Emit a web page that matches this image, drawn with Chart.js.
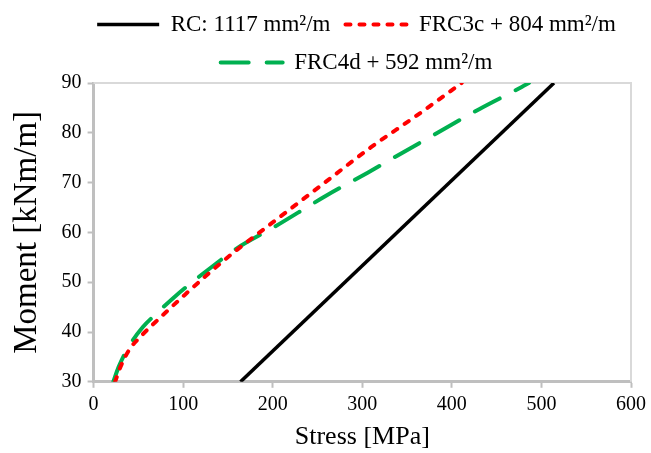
<!DOCTYPE html>
<html>
<head>
<meta charset="utf-8">
<script src="https://cdn.jsdelivr.net/npm/chart.js@4.4.1/dist/chart.umd.min.js"></script>
<style>
  html, body { margin: 0; padding: 0; background: #fff; }
  #wrap { width: 651px; height: 453px; }
</style>
</head>
<body>
<div id="wrap"><canvas id="chart" width="651" height="453"></canvas></div>
<script>
// values: stress [MPa] vs moment [kNm/m]
const rcStress    = [164, 514];
const rcMoment    = [30, 90];
const frc3cStress = [24, 30, 40, 52, 75, 102, 130, 160, 200, 253, 309, 361, 411];
const frc3cMoment = [30, 33, 36.5, 39, 43, 47.5, 52, 56.5, 62, 69.3, 77, 83.5, 90];
const frc4dStress = [22, 28, 39, 55, 69, 90, 110, 130, 160, 200, 260, 306, 338, 384, 431, 478, 486];
const frc4dMoment = [30, 33, 37, 41, 43.5, 47, 50, 52.8, 56.8, 60.9, 67.4, 72, 75.3, 80, 84.8, 89.2, 90];
const xTicks = [0, 100, 200, 300, 400, 500, 600];
const yTicks = [30, 40, 50, 60, 70, 80, 90];

const pts = (xs, ys) => xs.map((x, i) => ({ x, y: ys[i] }));
const serif = 'Liberation Serif, Times New Roman, serif';

// light border on top and right of the plot area
const frame = {
  id: 'frame',
  beforeDatasetsDraw(chart){
    const { ctx, chartArea: a } = chart;
    ctx.save();
    ctx.strokeStyle = '#d9d9d9';
    ctx.lineWidth = 2;
    ctx.beginPath();
    ctx.moveTo(a.left, a.top);
    ctx.lineTo(a.right, a.top);
    ctx.lineTo(a.right, a.bottom);
    ctx.stroke();
    ctx.restore();
  }
};

// legend sits a bit higher and right of centre, and takes less room than chart.js gives it
const legendPlace = {
  id: 'legendPlace',
  beforeLayout(chart){
    const lg = chart.legend;
    if(!lg || lg._patched) return;
    const fit = lg.fit;
    lg.fit = function(){ fit.call(this); this.height -= 3; };
    lg._patched = true;
  },
  afterLayout(chart){
    const lg = chart.legend;
    lg.left += 36; lg.right += 36;
    lg.top -= 2; lg.bottom -= 2;
  }
};

new Chart(document.getElementById('chart'), {
  type: 'line',
  data: {
    datasets: [
      { label: 'RC: 1117 mm²/m', data: pts(rcStress, rcMoment), borderColor: '#000', borderWidth: 3.5, pointRadius: 0 },
      { label: 'FRC3c + 804 mm²/m', data: pts(frc3cStress, frc3cMoment), borderColor: '#ff0000', borderWidth: 4, borderDash: [5, 9], borderCapStyle: 'round', pointRadius: 0, cubicInterpolationMode: 'monotone' },
      { label: 'FRC4d + 592 mm²/m', data: pts(frc4dStress, frc4dMoment), borderColor: '#00b050', borderWidth: 4, borderDash: [28, 18], borderCapStyle: 'round', pointRadius: 0, cubicInterpolationMode: 'monotone' }
    ]
  },
  options: {
    responsive: false,
    animation: false,
    layout: { padding: { left: 8, right: 18, top: 0, bottom: 0 } },
    plugins: {
      tooltip: { enabled: false },
      legend: {
        position: 'top',
        labels: {
          usePointStyle: true,
          pointStyle: 'line',
          pointStyleWidth: 62,
          color: '#000',
          font: { family: serif, size: 23 },
          padding: 15,
          generateLabels(chart){
            return chart.data.datasets.map((ds, i) => ({
              text: ds.label,
              datasetIndex: i,
              strokeStyle: ds.borderColor,
              fillStyle: ds.borderColor,
              lineWidth: ds.borderWidth,
              lineDash: ds.borderDash || [],
              lineCap: ds.borderCapStyle || 'butt',
              pointStyle: 'line',
              hidden: false
            }));
          }
        }
      }
    },
    scales: {
      x: {
        type: 'linear', min: 0, max: 600,
        afterBuildTicks: s => { s.ticks = xTicks.map(v => ({ value: v })); },
        ticks: { color: '#000', font: { family: serif, size: 20 }, padding: 5 },
        grid: { drawOnChartArea: false, tickLength: 6, tickColor: '#bfbfbf', tickWidth: 2 },
        border: { color: '#bfbfbf', width: 3 },
        title: { display: true, text: 'Stress [MPa]', color: '#000', font: { family: serif, size: 26 }, padding: { top: 0, bottom: 0 } }
      },
      y: {
        min: 30, max: 90,
        afterBuildTicks: s => { s.ticks = yTicks.map(v => ({ value: v })); },
        ticks: { color: '#000', font: { family: serif, size: 20 }, padding: 6 },
        grid: { drawOnChartArea: false, tickLength: 6, tickColor: '#bfbfbf', tickWidth: 2 },
        border: { color: '#bfbfbf', width: 3 },
        title: { display: true, text: 'Moment [kNm/m]', color: '#000', font: { family: serif, size: 33 }, padding: { top: 0, bottom: 8 } }
      }
    }
  },
  plugins: [frame, legendPlace]
});
</script>
</body>
</html>
